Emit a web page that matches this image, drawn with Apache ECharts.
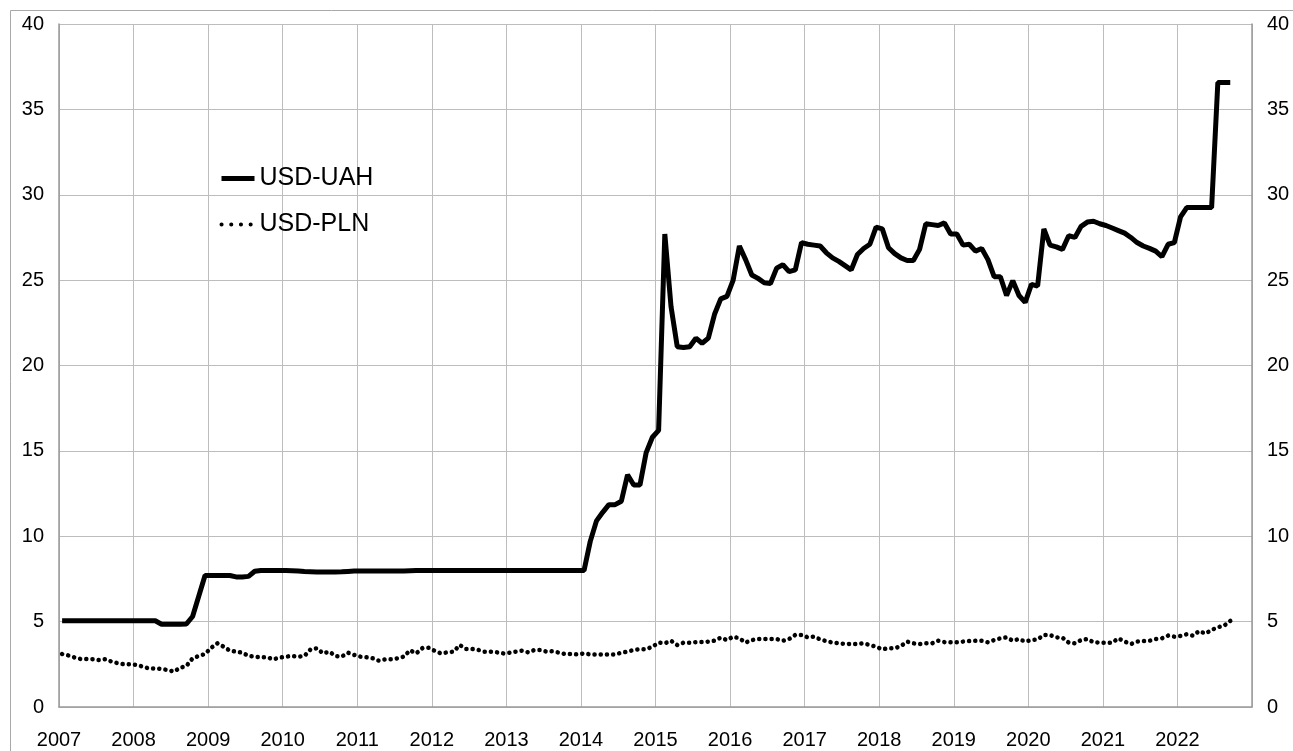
<!DOCTYPE html>
<html>
<head>
    <meta charset="utf-8">
    <title>USD-UAH / USD-PLN</title>
    <script src="https://cdn.jsdelivr.net/npm/echarts@6/dist/echarts.min.js"></script>
</head>
<body style="margin:0;background:#fff;">
<div id="main" style="width:1293px;height:751px;"></div>
<script type="text/javascript">
    // monthly end-of-month rates, Jan 2007 .. Sep 2022
    var startYear = 2007;
    var yearLabels = [2007, 2008, 2009, 2010, 2011, 2012, 2013, 2014, 2015, 2016, 2017, 2018, 2019, 2020, 2021, 2022];
    var seriesNames = ['USD-UAH', 'USD-PLN'];

    var uah = [
        5.05, 5.05, 5.05, 5.05, 5.05, 5.05, 5.05, 5.05, 5.05, 5.05, 5.05, 5.05,      // 2007
        5.05, 5.05, 5.05, 5.05, 4.85, 4.85, 4.85, 4.85, 4.86, 5.3, 6.5, 7.7,         // 2008
        7.7, 7.7, 7.7, 7.7, 7.62, 7.62, 7.65, 7.95, 8.0, 8.0, 8.0, 8.0,              // 2009
        7.99, 7.98, 7.96, 7.93, 7.92, 7.91, 7.91, 7.91, 7.91, 7.92, 7.94, 7.96,      // 2010
        7.96, 7.96, 7.96, 7.97, 7.97, 7.97, 7.97, 7.97, 7.98, 7.99, 7.99, 7.99,      // 2011
        7.99, 7.99, 7.99, 7.99, 7.99, 7.99, 7.99, 7.99, 7.99, 7.99, 7.99, 7.99,      // 2012
        7.99, 7.99, 7.99, 7.99, 7.99, 7.99, 7.99, 7.99, 7.99, 7.99, 7.99, 7.99,      // 2013
        7.99, 9.7, 10.9, 11.4, 11.85, 11.85, 12.05, 13.6, 13.0, 13.0, 14.9, 15.8,    // 2014
        16.2, 27.7, 23.45, 21.1, 21.05, 21.1, 21.6, 21.3, 21.6, 23.0, 23.9, 24.05,   // 2015
        25.0, 27.0, 26.2, 25.3, 25.1, 24.85, 24.8, 25.7, 25.9, 25.5, 25.6, 27.2,     // 2016
        27.1, 27.05, 27.0, 26.6, 26.3, 26.1, 25.85, 25.6, 26.5, 26.85, 27.1, 28.1,   // 2017
        28.0, 26.9, 26.55, 26.3, 26.15, 26.15, 26.8, 28.3, 28.25, 28.2, 28.35, 27.7, // 2018
        27.7, 27.05, 27.1, 26.7, 26.85, 26.2, 25.2, 25.2, 24.1, 24.97, 24.1, 23.7,   // 2019
        24.75, 24.65, 28.0, 27.05, 26.95, 26.8, 27.6, 27.5, 28.15, 28.4, 28.45, 28.3,// 2020
        28.2, 28.05, 27.9, 27.75, 27.5, 27.2, 27.0, 26.86, 26.7, 26.37, 27.1, 27.2,  // 2021
        28.7, 29.25, 29.25, 29.25, 29.25, 29.25, 36.57, 36.57, 36.57                 // 2022
    ];

    var pln = [
        3.1, 3.02, 2.9, 2.81, 2.81, 2.8, 2.75, 2.8, 2.65, 2.56, 2.5, 2.5,            // 2007
        2.46, 2.36, 2.26, 2.26, 2.22, 2.17, 2.07, 2.3, 2.4, 2.85, 2.99, 3.1,         // 2008
        3.47, 3.73, 3.53, 3.3, 3.24, 3.18, 2.99, 2.95, 2.91, 2.91, 2.79, 2.89,       // 2009
        2.95, 2.99, 2.95, 2.99, 3.38, 3.44, 3.14, 3.24, 2.99, 2.95, 3.18, 3.05,      // 2010
        2.95, 2.91, 2.85, 2.71, 2.79, 2.79, 2.85, 2.95, 3.32, 3.14, 3.45, 3.47,      // 2011
        3.28, 3.14, 3.2, 3.24, 3.63, 3.4, 3.4, 3.34, 3.24, 3.24, 3.2, 3.14,          // 2012
        3.18, 3.24, 3.3, 3.2, 3.34, 3.34, 3.24, 3.27, 3.18, 3.1, 3.1, 3.08,          // 2013
        3.14, 3.08, 3.08, 3.08, 3.08, 3.08, 3.18, 3.24, 3.34, 3.38, 3.38, 3.53,      // 2014
        3.77, 3.73, 3.88, 3.63, 3.77, 3.77, 3.8, 3.8, 3.83, 3.88, 4.06, 3.92,        // 2015
        4.12, 4.02, 3.77, 3.92, 3.98, 3.98, 3.98, 3.98, 3.88, 3.98, 4.22, 4.22,      // 2016
        4.08, 4.12, 3.96, 3.86, 3.77, 3.73, 3.7, 3.69, 3.69, 3.73, 3.63, 3.53,       // 2017
        3.38, 3.44, 3.44, 3.57, 3.83, 3.73, 3.69, 3.73, 3.73, 3.88, 3.8, 3.79,       // 2018
        3.79, 3.83, 3.86, 3.88, 3.88, 3.79, 3.92, 4.02, 4.08, 3.88, 3.98, 3.83,      // 2019
        3.92, 3.96, 4.22, 4.22, 4.08, 4.06, 3.77, 3.73, 3.92, 3.98, 3.79, 3.77,      // 2020
        3.77, 3.77, 4.02, 3.83, 3.69, 3.83, 3.86, 3.88, 3.98, 4.02, 4.18, 4.12,      // 2021
        4.16, 4.26, 4.18, 4.45, 4.3, 4.51, 4.67, 4.76, 5.04                          // 2022
    ];

    // month index -> fractional year (plotted mid-month)
    function toPoints(arr) {
        return arr.map(function (v, i) {
            return [startYear + (i + 0.5) / 12, v];
        });
    }

    var chartDom = document.getElementById('main');
    var myChart = echarts.init(chartDom, null, {renderer: 'canvas'});

    var fontFamily = '"Liberation Sans", Arial, sans-serif';
    var gridColor = '#bdbdbd';
    var axisColor = '#9a9a9a';

    var uahLine = {color: '#000', width: 5};
    var plnLine = {color: '#000', width: 4.5, type: [0.1, 6.1], cap: 'round'};

    var yAxisCommon = {
        type: 'value',
        min: 0,
        max: 40,
        interval: 5,
        axisTick: {show: false},
        axisLine: {show: true, lineStyle: {color: axisColor, width: 1.5}},
        axisLabel: {color: '#000', fontSize: 20, fontFamily: fontFamily, margin: 15}
    };

    var option = {
        backgroundColor: '#fff',
        animation: false,
        graphic: [{
            type: 'rect',
            shape: {x: 10.5, y: 10.5, width: 1300, height: 800},
            style: {fill: 'none', stroke: '#a8a8a8', lineWidth: 1},
            silent: true
        }],
        grid: {left: 59, right: 41, top: 24, bottom: 44},
        legend: {
            data: [
                {name: seriesNames[0], lineStyle: uahLine},
                {name: seriesNames[1], lineStyle: {color: '#000', width: 4, type: [0.1, 9.6], cap: 'round'}}
            ],
            orient: 'vertical',
            left: 219,
            top: 166,
            padding: 0,
            itemWidth: 33,
            itemHeight: 14,
            itemGap: 21,
            itemStyle: {color: 'rgba(0,0,0,0)', opacity: 0, borderWidth: 0},
            textStyle: {color: '#000', fontSize: 25, fontFamily: fontFamily}
        },
        xAxis: {
            type: 'value',
            min: 2007,
            max: 2023,
            interval: 1,
            axisTick: {show: false},
            axisLine: {show: true, onZero: false, lineStyle: {color: axisColor, width: 1.5}},
            splitLine: {show: true, lineStyle: {color: gridColor, width: 1}},
            axisLabel: {
                color: '#000',
                fontSize: 20,
                fontFamily: fontFamily,
                margin: 23,
                formatter: function (v) {
                    return yearLabels.indexOf(v) >= 0 ? String(v) : '';
                }
            }
        },
        yAxis: [
            Object.assign({}, yAxisCommon, {
                position: 'left',
                splitLine: {show: true, lineStyle: {color: gridColor, width: 1}}
            }),
            Object.assign({}, yAxisCommon, {
                position: 'right',
                splitLine: {show: false}
            })
        ],
        series: [
            {
                name: seriesNames[0],
                type: 'line',
                data: toPoints(uah),
                showSymbol: false,
                symbol: 'none',
                lineStyle: uahLine,
                itemStyle: {color: '#000'}
            },
            {
                name: seriesNames[1],
                type: 'line',
                data: toPoints(pln),
                showSymbol: false,
                symbol: 'none',
                lineStyle: plnLine,
                itemStyle: {color: '#000'}
            }
        ]
    };

    if (option && typeof option === 'object') {
        myChart.setOption(option);
    }
</script>
</body>
</html>
